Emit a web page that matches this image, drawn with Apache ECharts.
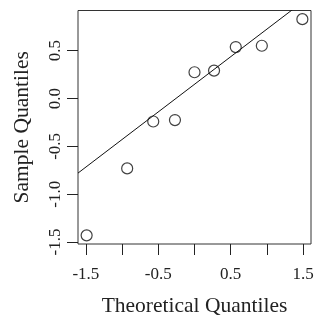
<!DOCTYPE html>
<html><head><meta charset="utf-8">
<script src="https://cdn.jsdelivr.net/npm/echarts@6/dist/echarts.min.js"></script>
<style>html,body{margin:0;padding:0;background:#fff}#c{width:316px;height:317px}</style>
</head><body><div id="c"></div>
<script>
var theoretical = [-1.49, -0.93, -0.57, -0.27, 0.0, 0.27, 0.57, 0.93, 1.49];
var sample = [-1.43, -0.73, -0.24, -0.225, 0.275, 0.292, 0.538, 0.552, 0.83];
var xTicks = [-1.5, -1.0, -0.5, 0.0, 0.5, 1.0, 1.5];
var xLabels = [-1.5, -0.5, 0.5, 1.5];
var yTicks = [-1.5, -1.0, -0.5, 0.0, 0.5];
var xTitle = 'Theoretical Quantiles';
var yTitle = 'Sample Quantiles';

function q7(arr, p) {
  var s = arr.slice().sort(function(a,b){return a-b;});
  var h = (s.length - 1) * p, lo = Math.floor(h);
  return s[lo] + (h - lo) * ((s[lo+1] !== undefined ? s[lo+1] : s[lo]) - s[lo]);
}
var zq = 0.6744897501960817;
var slope = (q7(sample, 0.75) - q7(sample, 0.25)) / (2 * zq);
var intercept = q7(sample, 0.25) + slope * zq;

var xr = [Math.min.apply(null, theoretical), Math.max.apply(null, theoretical)];
var yr = [Math.min.apply(null, sample), Math.max.apply(null, sample)];
var xMin = xr[0] - 0.04 * (xr[1] - xr[0]), xMax = xr[1] + 0.04 * (xr[1] - xr[0]);
var yMin = yr[0] - 0.04 * (yr[1] - yr[0]), yMax = yr[1] + 0.04 * (yr[1] - yr[0]);

var points = theoretical.map(function(x, i){ return [x, sample[i]]; });
var linePts = [[xMin, intercept + slope * xMin], [xMax, intercept + slope * xMax]];

var font = "'Liberation Serif', serif";
var chart = echarts.init(document.getElementById('c'), null, {renderer: 'canvas'});
chart.setOption({
  animation: false,
  grid: {left: 78, right: 5, top: 10.5, bottom: 73, outerBoundsMode: 'none', containLabel: false,
    show: true, borderColor: '#333', borderWidth: 1, backgroundColor: 'transparent'},
  xAxis: {
    type: 'value', min: xMin, max: xMax,
    splitLine: {show: false},
    axisLine: {show: false, onZero: false},
    axisTick: {show: true, length: 11, inside: false, customValues: xTicks, lineStyle: {color: '#222'}},
    axisLabel: {customValues: xLabels, margin: 22, fontFamily: font, fontSize: 17, color: '#222',
      formatter: function(v){ return v.toFixed(1); }},
    name: xTitle, nameLocation: 'middle', nameGap: 51,
    nameTextStyle: {fontFamily: font, fontSize: 21.5, color: '#222'}
  },
  yAxis: {
    type: 'value', min: yMin, max: yMax,
    splitLine: {show: false},
    axisLine: {show: false, onZero: false},
    axisTick: {show: true, length: 11, inside: false, customValues: yTicks, lineStyle: {color: '#222'}},
    axisLabel: {customValues: yTicks, margin: 14, rotate: 90, fontFamily: font, fontSize: 17, color: '#222',
      formatter: function(v){ return v.toFixed(1); }},
    name: yTitle, nameLocation: 'middle', nameGap: 45,
    nameTextStyle: {fontFamily: font, fontSize: 21.5, color: '#222'}
  },
  series: [
    {type: 'line', data: linePts, symbol: 'none', clip: true, lineStyle: {color: '#111', width: 1}},
    {type: 'scatter', data: points, symbol: 'circle', symbolSize: 11,
      itemStyle: {color: 'transparent', borderColor: '#111', borderWidth: 1.2}}
  ]
});
</script></body></html>
